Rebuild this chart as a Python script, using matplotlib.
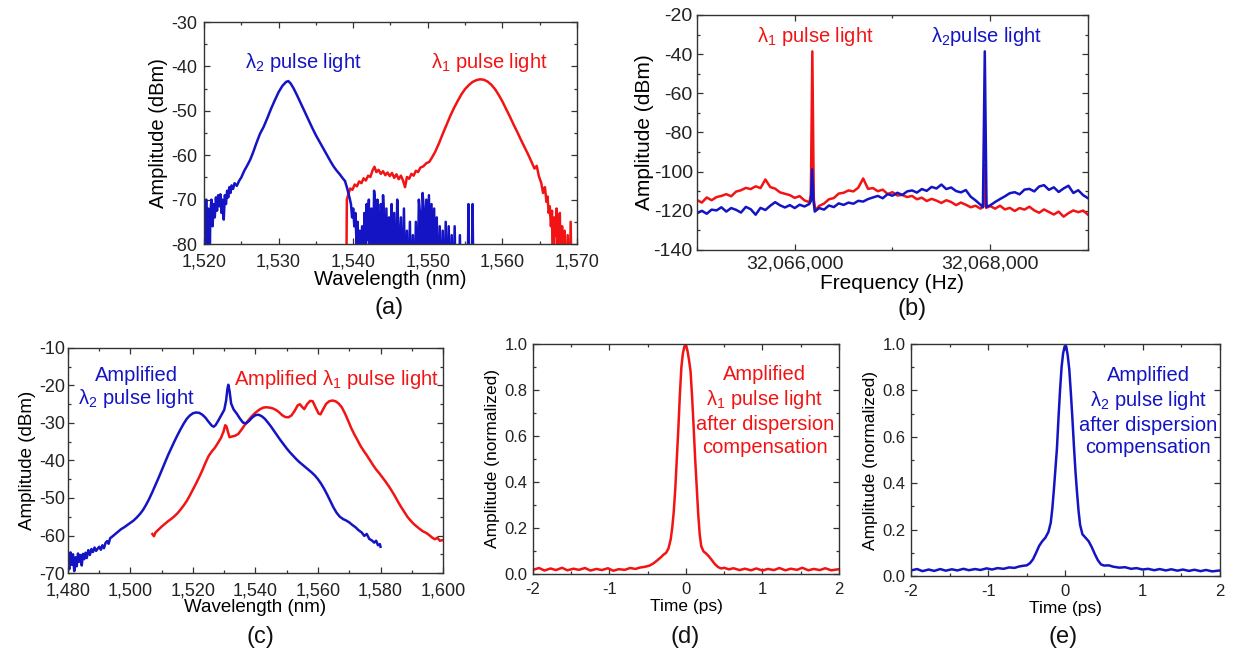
import numpy as np
import matplotlib
matplotlib.use('Agg')
import matplotlib.pyplot as plt
from matplotlib.ticker import MultipleLocator, FixedLocator, FuncFormatter

plt.rcParams['font.family'] = ['Liberation Sans', 'DejaVu Sans']
plt.rcParams['mathtext.fontset'] = 'custom'
plt.rcParams['mathtext.rm'] = 'Liberation Sans'
plt.rcParams['mathtext.it'] = 'Liberation Sans:italic'
plt.rcParams['mathtext.default'] = 'regular'
plt.rcParams['axes.unicode_minus'] = False

RED = '#f21414'
BLUE = '#1414c4'
DARK = '#333333'

# (a) espectro óptico dos pulsos (nm, dBm); -95 = abaixo do eixo
wl_a_azul = [1520.00, 1520.10, 1520.20, 1520.30, 1520.40, 1520.55, 1520.70, 1520.85, 1521.00, 1521.15,
             1521.30, 1521.45, 1521.60, 1521.75, 1521.90, 1522.05, 1522.20, 1522.35, 1522.50, 1522.65,
             1522.80, 1522.95, 1523.10, 1523.25, 1523.40, 1523.55, 1523.70, 1523.90, 1524.10, 1524.40,
             1524.70, 1525.00, 1525.40, 1525.80, 1526.20, 1526.60, 1527.00, 1527.50, 1528.00, 1528.50,
             1529.00, 1529.50, 1530.00, 1530.50, 1531.00, 1531.30, 1531.60, 1532.00, 1532.50, 1533.00,
             1533.50, 1534.00, 1534.50, 1535.00, 1535.50, 1536.00, 1536.50, 1537.00, 1537.40, 1537.80,
             1538.20, 1538.60, 1538.90, 1539.20, 1539.50, 1539.70, 1539.85, 1540.00, 1540.15, 1540.30,
             1540.45, 1540.60, 1540.75, 1540.90, 1541.05, 1541.20, 1541.35, 1541.50, 1541.65, 1541.80,
             1541.95, 1542.10, 1542.25, 1542.45, 1542.60, 1542.80, 1542.95, 1543.10, 1543.25, 1543.40,
             1543.55, 1543.70, 1543.85, 1544.00, 1544.15, 1544.30, 1544.45, 1544.65, 1544.80, 1545.00,
             1545.15, 1545.30, 1545.50, 1545.70, 1545.90, 1546.05, 1546.20, 1546.40, 1546.60, 1546.80,
             1547.00, 1547.20, 1547.40, 1547.60, 1547.80, 1548.00, 1548.20, 1548.40, 1548.60, 1548.80,
             1548.95, 1549.10, 1549.30, 1549.45, 1549.60, 1549.80, 1549.95, 1550.15, 1550.30, 1550.50,
             1550.65, 1550.85, 1551.00, 1551.20, 1551.40, 1551.60, 1551.80, 1552.00, 1552.20, 1552.40,
             1552.60, 1552.80, 1553.00, 1553.20, 1553.40, 1553.60, 1553.80, 1554.10, 1554.30, 1554.50,
             1555.30, 1555.45, 1555.60, 1555.85, 1556.00, 1556.15]
amp_a_azul = [-95, -71, -78, -70, -95, -72, -95, -73, -70, -76,
              -71, -74, -69.5, -72.5, -69, -71.5, -68.8, -73, -70, -74.5,
              -69, -71, -68, -69.5, -67.2, -68.5, -66.8, -67.6, -66.3, -66.9,
              -65.8, -65.0, -63.5, -62.3, -61.0, -59.3, -57.4, -55.2, -53.6, -51.6,
              -49.5, -47.6, -45.8, -44.4, -43.5, -43.3, -43.8, -44.9, -46.6, -48.4,
              -50.2, -52.0, -53.8, -55.5, -57.0, -58.5, -60.0, -61.5, -62.6, -63.5,
              -64.3, -65.2, -65.8, -67.5, -69.5, -71, -74, -72, -76, -73,
              -80, -75, -95, -77, -95, -76, -95, -73, -95, -71,
              -79, -70, -95, -72, -95, -68, -71, -95, -70, -78,
              -95, -71, -95, -69, -75, -95, -72, -95, -74, -95,
              -71, -95, -73, -95, -70, -76, -95, -74, -95, -72,
              -95, -77, -95, -75, -95, -78, -95, -75, -95, -70,
              -73, -95, -68.5, -72, -95, -70, -95, -69, -95, -71,
              -95, -72, -95, -74, -95, -76, -95, -77, -95, -75,
              -95, -76, -95, -78, -95, -76, -95, -95, -78, -95,
              -95, -71, -95, -95, -71, -95]

wl_a_verm = [1539.05, 1539.15, 1539.35, 1539.60, 1539.90, 1540.20, 1540.50, 1540.80, 1541.10, 1541.40,
             1541.70, 1542.00, 1542.30, 1542.60, 1542.85, 1543.10, 1543.40, 1543.70, 1544.00, 1544.30,
             1544.60, 1544.90, 1545.20, 1545.50, 1545.80, 1546.10, 1546.40, 1546.70, 1546.95, 1547.20,
             1547.50, 1547.80, 1548.10, 1548.40, 1548.70, 1549.00, 1549.40, 1549.80, 1550.20, 1550.60,
             1551.00, 1551.50, 1552.00, 1552.50, 1553.00, 1553.50, 1554.00, 1554.50, 1555.00, 1555.50,
             1556.00, 1556.50, 1557.00, 1557.50, 1558.00, 1558.50, 1559.00, 1559.50, 1560.00, 1560.50,
             1561.00, 1561.50, 1562.00, 1562.50, 1563.00, 1563.50, 1563.90, 1564.30, 1564.60, 1564.90,
             1565.20, 1565.45, 1565.70, 1565.90, 1566.05, 1566.20, 1566.35, 1566.50, 1566.65, 1566.80,
             1566.95, 1567.10, 1567.25, 1567.40, 1567.55, 1567.70, 1567.85, 1568.00, 1568.15, 1568.35,
             1568.55, 1568.75, 1568.95, 1569.15, 1569.30]
amp_a_verm = [-95, -70, -68.8, -67.5, -67.8, -66.6, -67.0, -65.9, -66.3, -65.2,
              -65.7, -64.6, -64.9, -63.4, -62.6, -63.8, -63.3, -64.2, -63.6, -64.5,
              -63.9, -64.7, -64.0, -65.1, -64.3, -65.4, -64.6, -65.8, -67.2, -64.9,
              -65.3, -64.2, -64.6, -63.5, -63.8, -62.8, -62.5, -61.8, -61.5, -60.4,
              -59.2, -57.3, -55.2, -53.2, -51.2, -49.4, -47.8, -46.3, -45.1, -44.2,
              -43.5, -43.1, -42.9, -43.0, -43.4, -44.1, -45.1, -46.4, -47.9, -49.6,
              -51.3, -53.1, -54.8, -56.6, -58.3, -60.0, -61.5, -63.0, -62.4, -64.8,
              -66.2, -68.5, -67.2, -70.5, -69.3, -73, -71.5, -76, -72.5, -95,
              -74, -78, -72, -95, -75, -73, -95, -76, -95, -77,
              -95, -78, -95, -75, -95]

# (b) espectro RF (Hz relativo a 32.065.000, dBm)
freq_base = 32065000
freq_ticks_b = [32066000, 32068000]
freq_b_verm = [0, 50, 100, 150, 200, 250, 300, 350, 400, 450, 500, 550, 600, 650, 700, 750, 800, 850,
               900, 950, 1000, 1050, 1100, 1150, 1165, 1180, 1195, 1210, 1250, 1300, 1350, 1400, 1450,
               1500, 1550, 1600, 1650, 1700, 1750, 1800, 1850, 1900, 1950, 2000, 2050, 2100, 2150, 2200,
               2250, 2300, 2350, 2400, 2450, 2500, 2550, 2600, 2650, 2700, 2750, 2800, 2850, 2900, 2930,
               2944, 2958, 3000, 3050, 3100, 3150, 3200, 3250, 3300, 3350, 3400, 3450, 3500, 3550, 3600,
               3650, 3700, 3750, 3800, 3850, 3900, 3950, 4000]
amp_b_verm = [-114.5, -115.8, -113.2, -114.6, -113.0, -112.4, -111.5, -112.6, -110.2, -109.5, -108.3,
              -108.9, -107.5, -108.4, -104.0, -107.9, -108.7, -110.6, -111.3, -112.0, -113.4, -112.5,
              -114.7, -115.6, -112.0, -38.6, -114.0, -119.8, -117.5, -116.3, -114.1, -113.5, -111.2,
              -110.8, -109.6, -110.1, -108.2, -103.5, -108.8, -108.4, -110.0, -109.2, -111.4, -110.5,
              -112.2, -111.9, -113.0, -112.4, -114.1, -113.3, -115.0, -113.9, -114.8, -116.0, -114.6,
              -115.5, -117.1, -115.8, -116.9, -118.2, -117.4, -118.9, -117.8, -96.6, -118.5, -117.6,
              -118.9, -117.4, -119.3, -118.5, -120.1, -118.6, -119.4, -117.9, -119.8, -121.0, -119.3,
              -120.6, -121.9, -120.4, -123.0, -121.2, -119.8, -120.7, -119.9, -122.0]

freq_b_azul = [0, 50, 100, 150, 200, 250, 300, 350, 400, 450, 500, 550, 600, 650, 700, 750, 800, 850,
               900, 950, 1000, 1050, 1100, 1150, 1165, 1178, 1192, 1205, 1250, 1300, 1350, 1400, 1450,
               1500, 1550, 1600, 1650, 1700, 1750, 1800, 1850, 1900, 1950, 2000, 2050, 2100, 2150, 2200,
               2250, 2300, 2350, 2400, 2450, 2500, 2550, 2600, 2650, 2700, 2750, 2800, 2850, 2900, 2925,
               2944, 2962, 3000, 3050, 3100, 3150, 3200, 3250, 3300, 3350, 3400, 3450, 3500, 3550, 3600,
               3650, 3700, 3750, 3800, 3850, 3900, 3950, 4000]
amp_b_azul = [-121.3, -120.0, -121.5, -119.4, -119.8, -118.2, -120.4, -118.6, -119.5, -120.9, -118.0,
              -119.2, -122.0, -118.5, -119.6, -117.4, -115.6, -117.2, -118.3, -117.1, -118.6, -116.9,
              -117.8, -116.5, -115.0, -98.8, -115.0, -120.4, -118.6, -119.4, -117.3, -118.1, -116.2,
              -117.0, -115.8, -116.4, -114.9, -115.3, -114.0, -113.2, -112.4, -113.6, -111.5, -112.3,
              -110.8, -111.9, -110.1, -109.6, -110.7, -108.9, -109.8, -107.8, -108.6, -106.6, -108.9,
              -108.1, -109.9, -110.6, -109.4, -112.8, -114.7, -116.9, -118.2, -38.6, -118.0, -117.2,
              -115.5, -114.0, -112.6, -111.0, -110.5, -111.6, -109.2, -108.8, -110.1, -107.6, -106.9,
              -109.3, -108.0, -110.4, -108.6, -107.2, -110.9, -109.5, -112.0, -113.6]

# (c) espectro amplificado (nm, dBm)
wl_c_azul = [1480.0, 1480.4, 1480.8, 1481.2, 1481.6, 1482.0, 1482.4, 1482.8, 1483.2, 1483.6, 1484.0,
             1484.4, 1484.8, 1485.2, 1485.6, 1486.0, 1486.5, 1487.0, 1487.5, 1488.0, 1488.5, 1489.0,
             1489.5, 1490.0, 1490.5, 1491.0, 1491.5, 1492.0, 1492.5, 1493.0, 1493.5, 1494.0, 1495.0,
             1496.0, 1497.0, 1498.0, 1499.0, 1500.0, 1501.0, 1502.0, 1503.0, 1504.0, 1505.0, 1506.0,
             1507.0, 1508.0, 1509.0, 1510.0, 1511.0, 1512.0, 1513.0, 1514.0, 1515.0, 1516.0, 1517.0,
             1518.0, 1519.0, 1520.0, 1521.0, 1522.0, 1523.0, 1524.0, 1525.0, 1526.0, 1526.6, 1527.2,
             1528.0, 1529.0, 1530.0, 1530.6, 1531.0, 1531.3, 1531.7, 1532.2, 1533.0, 1534.0, 1535.0,
             1536.0, 1537.0, 1538.0, 1539.0, 1540.0, 1541.0, 1542.0, 1543.0, 1544.0, 1545.0, 1546.0,
             1547.0, 1548.0, 1549.0, 1550.0, 1551.0, 1552.0, 1553.0, 1554.0, 1555.0, 1556.0, 1557.0,
             1558.0, 1559.0, 1560.0, 1561.0, 1562.0, 1563.0, 1564.0, 1565.0, 1566.0, 1567.0, 1568.0,
             1569.0, 1570.0, 1571.0, 1572.0, 1573.0, 1574.0, 1574.8, 1575.6, 1576.4, 1577.2, 1578.0,
             1578.6, 1579.2, 1579.8, 1580.0]
amp_c_azul = [-66.0, -69.0, -64.5, -67.8, -65.0, -69.5, -65.8, -68.2, -64.8, -67.0, -65.2,
              -68.0, -64.9, -66.3, -64.6, -66.0, -63.9, -65.2, -63.6, -64.4, -63.2, -64.1,
              -63.5, -63.0, -63.8, -62.6, -63.4, -62.0, -61.5, -62.2, -60.7, -60.4, -59.7,
              -59.0, -58.3, -57.8, -57.2, -56.6, -56.0, -55.2, -54.3, -53.2, -51.8, -50.2,
              -48.4, -46.5, -44.6, -42.6, -40.6, -38.6, -36.8, -35.0, -33.3, -31.7, -30.2,
              -28.9, -28.0, -27.4, -27.2, -27.3, -27.8, -28.6, -29.7, -30.7, -31.0, -30.6,
              -29.5, -28.0, -26.5, -24.0, -21.0, -19.8, -21.5, -24.8, -26.4, -27.5, -28.8,
              -29.9, -30.1, -29.4, -28.5, -27.9, -27.8, -28.2, -28.9, -29.9, -31.0, -32.2,
              -33.4, -34.6, -35.7, -36.8, -37.8, -38.7, -39.6, -40.4, -41.1, -41.8, -42.5,
              -43.2, -44.0, -45.0, -46.2, -47.6, -49.2, -50.9, -52.6, -54.0, -55.0, -55.6,
              -56.0, -56.5, -57.2, -57.8, -58.6, -59.2, -60.1, -59.6, -60.9, -61.3, -61.9,
              -61.4, -62.6, -62.3, -63.0]

wl_c_verm = [1507.0, 1507.5, 1508.0, 1509.0, 1510.0, 1511.0, 1512.0, 1513.0, 1514.0, 1515.0, 1516.0,
             1517.0, 1518.0, 1519.0, 1520.0, 1521.0, 1522.0, 1523.0, 1524.0, 1525.0, 1526.0, 1527.0,
             1528.0, 1529.0, 1529.8, 1530.3, 1530.7, 1531.2, 1531.7, 1532.5, 1533.5, 1534.5, 1535.5,
             1536.5, 1537.5, 1538.5, 1539.5, 1540.5, 1541.5, 1542.5, 1543.5, 1544.5, 1545.5, 1546.5,
             1547.5, 1548.5, 1549.5, 1550.5, 1551.5, 1552.5, 1553.5, 1554.2, 1555.0, 1555.6, 1556.5,
             1557.5, 1558.3, 1559.2, 1560.2, 1560.8, 1561.6, 1562.6, 1563.6, 1564.6, 1565.6, 1566.6,
             1567.6, 1568.6, 1569.6, 1570.6, 1571.6, 1572.6, 1573.6, 1574.6, 1575.6, 1576.6, 1577.6,
             1578.6, 1579.6, 1580.6, 1581.6, 1582.6, 1583.6, 1584.6, 1585.6, 1586.6, 1587.6, 1588.6,
             1589.6, 1590.6, 1591.6, 1592.6, 1593.6, 1594.6, 1595.6, 1596.6, 1597.4, 1598.2, 1599.0,
             1600.0]
amp_c_verm = [-59.6, -60.2, -59.2, -58.4, -57.6, -56.9, -56.2, -55.6, -54.9, -54.1, -53.1,
              -52.0, -50.8, -49.3, -47.7, -46.1, -44.4, -42.6, -40.6, -38.8, -37.6, -36.6,
              -35.3, -33.9, -32.2, -30.6, -30.9, -32.4, -33.8, -33.6, -33.4, -32.9, -31.8,
              -30.6, -29.5, -28.5, -27.6, -26.9, -26.3, -25.9, -25.8, -25.9, -26.1, -26.5,
              -27.1, -27.9, -28.4, -28.5, -28.0, -26.8, -25.3, -25.0, -25.8, -26.3, -25.0,
              -24.1, -24.2, -25.8, -27.5, -27.7, -26.4, -24.9, -24.2, -24.0, -24.2, -24.8,
              -25.8, -27.4, -29.3, -31.3, -33.0, -34.5, -36.1, -37.4, -38.6, -39.9, -41.2,
              -42.4, -43.4, -44.5, -45.6, -46.8, -48.1, -49.5, -51.0, -52.4, -53.7, -55.0,
              -56.0, -56.9, -57.6, -58.3, -58.9, -59.3, -59.9, -60.6, -61.0, -60.6, -61.4,
              -61.2]

# (d) pulso λ1 após compensação (ps, normalizado)
t_d = [-2.00, -1.92, -1.85, -1.77, -1.70, -1.62, -1.55, -1.47, -1.40, -1.32, -1.25, -1.17, -1.10,
       -1.02, -0.95, -0.88, -0.80, -0.73, -0.66, -0.60, -0.54, -0.48, -0.43, -0.38, -0.33, -0.29,
       -0.26, -0.23, -0.20, -0.18, -0.16, -0.14, -0.12, -0.10, -0.08, -0.06, -0.04, -0.02, 0.00,
       0.02, 0.04, 0.06, 0.08, 0.10, 0.12, 0.14, 0.16, 0.18, 0.20, 0.23, 0.26, 0.29, 0.32, 0.35,
       0.38, 0.42, 0.46, 0.50, 0.56, 0.62, 0.70, 0.77, 0.85, 0.92, 1.00, 1.07, 1.15, 1.22, 1.30,
       1.37, 1.45, 1.52, 1.60, 1.67, 1.75, 1.82, 1.90, 2.00]
amp_d = [0.018, 0.026, 0.015, 0.024, 0.017, 0.027, 0.016, 0.023, 0.018, 0.026, 0.015, 0.022, 0.017,
         0.025, 0.014, 0.021, 0.018, 0.026, 0.022, 0.028, 0.031, 0.036, 0.045, 0.058, 0.072, 0.085,
         0.092, 0.11, 0.15, 0.20, 0.27, 0.37, 0.50, 0.63, 0.78, 0.90, 0.96, 0.99, 0.995,
         0.97, 0.93, 0.88, 0.77, 0.64, 0.50, 0.38, 0.26, 0.17, 0.12, 0.098, 0.090, 0.080, 0.068, 0.055,
         0.042, 0.030, 0.024, 0.027, 0.020, 0.025, 0.017, 0.023, 0.016, 0.024, 0.015, 0.022, 0.017,
         0.026, 0.016, 0.023, 0.018, 0.027, 0.016, 0.022, 0.017, 0.025, 0.016, 0.021]

# (e) pulso λ2 após compensação (ps, normalizado)
t_e = [-2.00, -1.92, -1.85, -1.77, -1.70, -1.62, -1.55, -1.47, -1.40, -1.32, -1.25, -1.17, -1.10,
       -1.02, -0.95, -0.88, -0.80, -0.73, -0.66, -0.60, -0.55, -0.50, -0.46, -0.42, -0.38, -0.34,
       -0.30, -0.26, -0.22, -0.19, -0.17, -0.15, -0.13, -0.11, -0.09, -0.07, -0.05, -0.03, -0.01,
       0.01, 0.03, 0.05, 0.07, 0.09, 0.11, 0.13, 0.15, 0.17, 0.19, 0.22, 0.26, 0.30, 0.34, 0.38,
       0.42, 0.46, 0.50, 0.56, 0.62, 0.70, 0.77, 0.85, 0.92, 1.00, 1.07, 1.15, 1.22, 1.30, 1.37,
       1.45, 1.52, 1.60, 1.67, 1.75, 1.82, 1.90, 2.00]
amp_e = [0.024, 0.030, 0.021, 0.028, 0.022, 0.030, 0.023, 0.029, 0.024, 0.031, 0.025, 0.030, 0.026,
         0.033, 0.028, 0.034, 0.031, 0.037, 0.035, 0.041, 0.044, 0.046, 0.055, 0.072, 0.10, 0.13,
         0.15, 0.165, 0.19, 0.23, 0.29, 0.37, 0.46, 0.55, 0.68, 0.80, 0.90, 0.96, 0.99,
         0.99, 0.95, 0.89, 0.79, 0.68, 0.56, 0.45, 0.36, 0.28, 0.22, 0.18, 0.165, 0.15, 0.125, 0.095,
         0.068, 0.050, 0.045, 0.046, 0.040, 0.036, 0.038, 0.031, 0.034, 0.028, 0.031, 0.025, 0.030,
         0.024, 0.029, 0.023, 0.028, 0.022, 0.027, 0.021, 0.026, 0.020, 0.024]


def estilo(ax, xmaj, xmin, ymaj, ymin, fs_tick, pad_x, pad_y):
    for s in ax.spines.values():
        s.set_color(DARK)
        s.set_linewidth(1.0)
    ax.xaxis.set_major_locator(MultipleLocator(xmaj))
    ax.xaxis.set_minor_locator(MultipleLocator(xmin))
    ax.yaxis.set_major_locator(MultipleLocator(ymaj))
    ax.yaxis.set_minor_locator(MultipleLocator(ymin))
    ax.tick_params(which='both', direction='in', top=True, right=True, color=DARK, width=0.9)
    ax.tick_params(which='major', length=4)
    ax.tick_params(which='minor', length=2.5)
    ax.tick_params(axis='x', labelsize=fs_tick, pad=pad_x, labelcolor='#222222')
    ax.tick_params(axis='y', labelsize=fs_tick, pad=pad_y, labelcolor='#222222')


milhar = FuncFormatter(lambda v, p: f'{v:,.0f}')
LW = 1.8

fig = plt.figure(figsize=(12.34, 6.53), dpi=100)

# (a)
ax = fig.add_axes([0.1653, 0.6263, 0.3023, 0.3400])
ax.plot(wl_a_verm, amp_a_verm, color=RED, lw=LW)
ax.plot(wl_a_azul, amp_a_azul, color=BLUE, lw=LW)
ax.set_xlim(1520, 1570)
ax.set_ylim(-80, -30)
estilo(ax, 10, 5, 10, 5, 13, 6.5, 5)
ax.xaxis.set_major_formatter(milhar)
ax.set_xlabel('Wavelength (nm)', fontsize=14.5, labelpad=0)
ax.set_ylabel('Amplitude (dBm)', fontsize=14.5, labelpad=2)
ax.text(1533.3, -39.2, 'λ$_2$ pulse light', color=BLUE, fontsize=14.5, ha='center', va='center')
ax.text(1558.3, -39.2, 'λ$_1$ pulse light', color=RED, fontsize=14.5, ha='center', va='center')

# (b)
ax = fig.add_axes([0.5648, 0.6172, 0.3169, 0.3599])
ax.plot([freq_base + f for f in freq_b_verm], amp_b_verm, color=RED, lw=LW)
ax.plot([freq_base + f for f in freq_b_azul], amp_b_azul, color=BLUE, lw=LW)
ax.set_xlim(freq_base, freq_base + 4000)
ax.set_ylim(-140, -20)
estilo(ax, 2000, 1000, 20, 10, 14, 4, 3)
ax.xaxis.set_major_locator(FixedLocator(freq_ticks_b))
ax.xaxis.set_major_formatter(milhar)
ax.set_xlabel('Frequency (Hz)', fontsize=15, labelpad=1)
ax.set_ylabel('Amplitude (dBm)', fontsize=15, labelpad=0)
ax.text(freq_base + 1207, -31.2, 'λ$_1$ pulse light', color=RED, fontsize=14.5, ha='center', va='center')
ax.text(freq_base + 2967, -31.2, 'λ$_2$pulse light', color=BLUE, fontsize=14.5, ha='center', va='center')

# (c)
ax = fig.add_axes([0.0551, 0.1225, 0.3039, 0.3446])
ax.plot(wl_c_verm, amp_c_verm, color=RED, lw=LW)
ax.plot(wl_c_azul, amp_c_azul, color=BLUE, lw=LW)
ax.set_xlim(1480, 1600)
ax.set_ylim(-70, -10)
estilo(ax, 20, 10, 10, 5, 13, 6.5, 2)
ax.xaxis.set_major_formatter(milhar)
ax.set_xlabel('Wavelength (nm)', fontsize=13.5, labelpad=0)
ax.set_ylabel('Amplitude (dBm)', fontsize=13.5, labelpad=2)
ax.text(1502, -20.7, 'Amplified\nλ$_2$ pulse light', color=BLUE, fontsize=14.5, ha='center',
        va='center', linespacing=1.1)
ax.text(1566, -18.5, 'Amplified λ$_1$ pulse light', color=RED, fontsize=14.5, ha='center', va='center')

# (d)
ax = fig.add_axes([0.4319, 0.1210, 0.2480, 0.3522])
ax.plot(t_d, amp_d, color=RED, lw=LW)
ax.set_xlim(-2, 2)
ax.set_ylim(0, 1)
estilo(ax, 1, 0.5, 0.2, 0.1, 12, 6, 4)
ax.set_xlabel('Time (ps)', fontsize=12.5, labelpad=1)
ax.set_ylabel('Amplitude (normalized)', fontsize=12.5, labelpad=3)
ax.text(1.03, 0.709, 'Amplified\nλ$_1$ pulse light\nafter dispersion\ncompensation', color=RED,
        fontsize=14.5, ha='center', va='center', linespacing=1.25)

# (e)
ax = fig.add_axes([0.7382, 0.1179, 0.2504, 0.3553])
ax.plot(t_e, amp_e, color=BLUE, lw=LW)
ax.set_xlim(-2, 2)
ax.set_ylim(0, 1)
estilo(ax, 1, 0.5, 0.2, 0.1, 12, 6, 4)
ax.set_xlabel('Time (ps)', fontsize=12.5, labelpad=1)
ax.set_ylabel('Amplitude (normalized)', fontsize=12.5, labelpad=3)
ax.text(1.07, 0.709, 'Amplified\nλ$_2$ pulse light\nafter dispersion\ncompensation', color=BLUE,
        fontsize=14.5, ha='center', va='center', linespacing=1.25)

# rótulos dos painéis
for rot, px, py in [('(a)', 389, 308), ('(b)', 912, 309), ('(c)', 260, 637),
                    ('(d)', 685, 637), ('(e)', 1063, 637)]:
    fig.text(px / 1234, 1 - py / 653, rot, fontsize=17, ha='center', va='center', color='#111111')

fig.savefig('out.png', dpi=100)
